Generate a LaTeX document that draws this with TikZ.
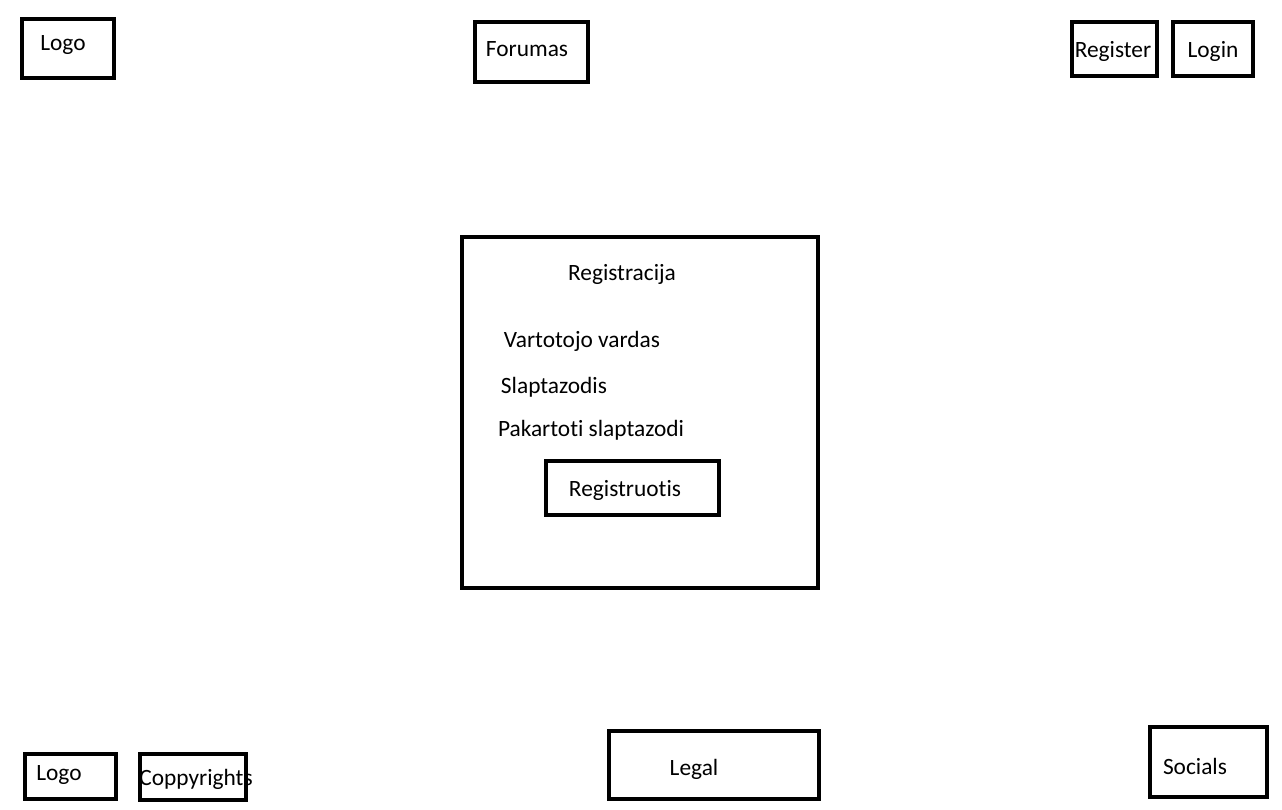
\documentclass[tikz,border=0pt]{standalone}
\usepackage{fontspec}
\setmainfont{Carlito}[Ligatures=NoCommon]

\begin{document}
\begin{tikzpicture}[x=0.02cm,y=-0.02cm,line width=2.6pt,
    box/.style={draw,rectangle,inner sep=0pt},
    lbl/.style={inner sep=0pt,font=\fontsize{13.3}{15}\selectfont}]
            \useasboundingbox (0,0) rectangle (1282,809);

            % header
            \node[box,minimum width=1.84cm,minimum height=1.18cm] (logotop) at (68,48.5) {};
            \node[box,minimum width=2.26cm,minimum height=1.2cm] (forumas) at (531.5,52) {};
            \node[box,minimum width=1.7cm,minimum height=1.08cm] (register) at (1114.5,49) {};
            \node[box,minimum width=1.6cm,minimum height=1.08cm] (login) at (1213,49) {};
            \node[lbl] (logotoptxt) at (63,45) {Logo};
            \node[lbl] (forumastxt) at (527,49) {Forumas};
            \node[lbl] (registertxt) at (1113,51) {Register};
            \node[lbl] (logintxt) at (1213,51) {Login};

            % registration form
            \node[box,minimum width=7.12cm,minimum height=7.02cm] (form) at (640,412.5) {};
            \node[lbl] (title) at (622,274) {Registracija};
            \node[lbl] (user) at (582,341) {Vartotojo vardas};
            \node[lbl] (pass) at (554,387) {Slaptazodis};
            \node[lbl] (repeat) at (591,430) {Pakartoti slaptazodi};
            \node[box,minimum width=3.46cm,minimum height=1.08cm] (submit) at (632.5,488) {};
            \node[lbl] (submittxt) at (625,490) {Registruotis};

            % footer
            \node[box,minimum width=1.82cm,minimum height=0.9cm] (logobot) at (70.5,776.5) {};
            \node[box,minimum width=2.12cm,minimum height=0.92cm] (copy) at (193,777) {};
            \node[box,minimum width=4.2cm,minimum height=1.36cm] (legal) at (714,765) {};
            \node[box,minimum width=2.34cm,minimum height=1.4cm] (socials) at (1208.5,762) {};
            \node[lbl] (logobottxt) at (59,775) {Logo};
            \node[lbl] (copytxt) at (196,779) {Coppyrights};
            \node[lbl] (legaltxt) at (694,769) {Legal};
            \node[lbl] (socialstxt) at (1195,766) {Socials};
        \end{tikzpicture}
\end{document}
